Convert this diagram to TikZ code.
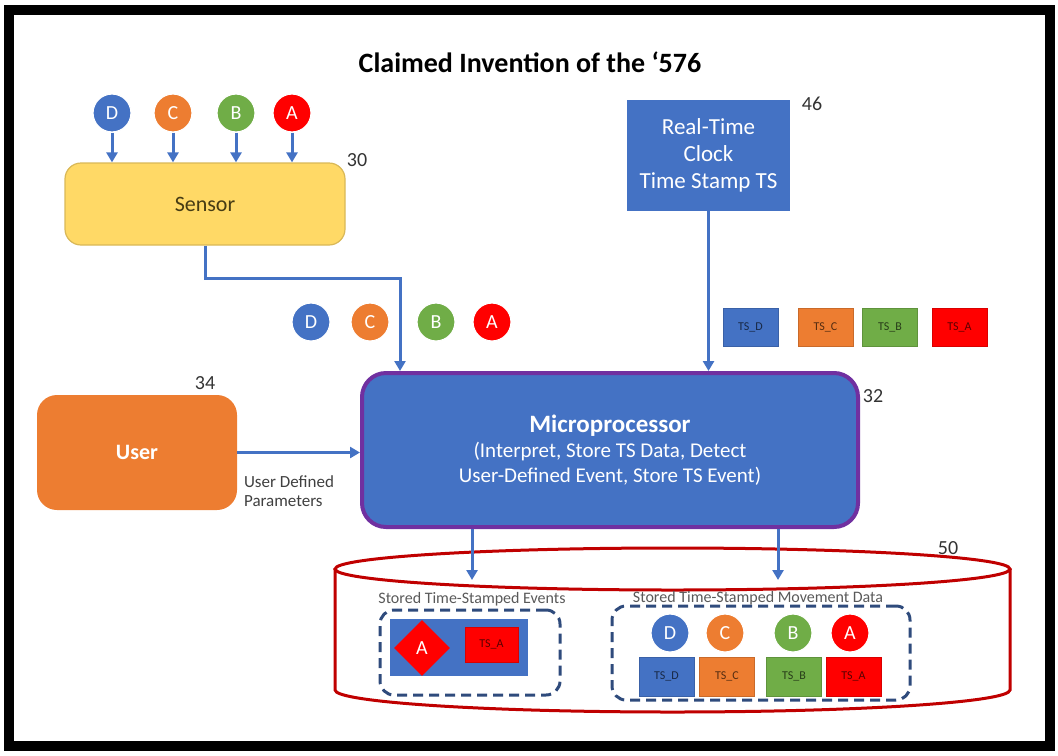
\documentclass[tikz,border=0pt]{standalone}
\usepackage{fontspec}
\setmainfont{Carlito}
\usetikzlibrary{arrows.meta,shapes.geometric}

\definecolor{tsblue}{HTML}{4472C4}
\definecolor{tsorange}{HTML}{ED7D31}
\definecolor{tsgreen}{HTML}{70AD47}
\definecolor{tsred}{HTML}{FF0000}
\definecolor{tsyellow}{HTML}{FFD966}
\definecolor{tspurple}{HTML}{7030A0}
\definecolor{tsnavy}{HTML}{2F4B7C}
\definecolor{tsdrum}{HTML}{C00000}

\tikzset{
  ball/.style={circle, fill=#1, draw=white, line width=0.6pt, minimum size=19pt,
    inner sep=0pt, text=white, font=\fontsize{10}{12}\selectfont},
  stamp/.style={rectangle, fill=#1, draw=#1!85!black, line width=0.5pt,
    minimum width=27.5pt, minimum height=19pt, inner sep=0pt,
    text=#1!35!black, font=\fontsize{6}{7}\selectfont},
  flow/.style={draw=tsblue, line width=1.5pt, -{Triangle[length=5pt,width=5.5pt]}},
  refnum/.style={font=\fontsize{10}{12}\selectfont, text=black!80},
  group/.style={draw=tsnavy, line width=1.5pt, dash pattern=on 5pt off 3pt,
    rounded corners=7pt},
  caption/.style={font=\fontsize{8}{9}\selectfont, text=black!65},
}

\begin{document}
\begin{tikzpicture}[x=0.5pt, y=-0.5pt]
  \useasboundingbox (0,0) rectangle (1058,755);
  \draw[line width=5pt] (9,9.5) rectangle (1050,746);

  \node (title) at (530,62) {\fontsize{14}{16}\selectfont\bfseries Claimed Invention of the ‘576};

  % sensor and its inputs
  \node (sensor) at (205,204) [rectangle, rounded corners=8pt, fill=tsyellow,
    draw=tsyellow!85!black, line width=0.6pt, minimum width=140pt, minimum height=41pt,
    font=\fontsize{11}{13}\selectfont, text={rgb,255:red,70;green,60;blue,20}] {Sensor};
  \node (sD) at (112,113) [ball=tsblue] {D};
  \node (sC) at (173,113) [ball=tsorange] {C};
  \node (sB) at (236,113) [ball=tsgreen] {B};
  \node (sA) at (292,113) [ball=tsred] {A};
  \node[refnum] (n30) at (357,160) {30};

  % clock
  \node (clock) at (708.5,155.5) [rectangle, fill=tsblue, minimum width=81.5pt,
    minimum height=55.5pt, align=center, text=white,
    font=\fontsize{11.5}{13.5}\selectfont] {Real-Time\\Clock\\Time Stamp TS};
  \node[refnum] (n46) at (812,104) {46};

  % samples on the way in
  \node (mD) at (311,322) [ball=tsblue] {D};
  \node (mC) at (370,322) [ball=tsorange] {C};
  \node (mB) at (436,322) [ball=tsgreen] {B};
  \node (mA) at (492,322) [ball=tsred] {A};
  \node (tD) at (750.5,327) [stamp=tsblue] {TS\_D};
  \node (tC) at (825.5,327) [stamp=tsorange] {TS\_C};
  \node (tB) at (890,327) [stamp=tsgreen] {TS\_B};
  \node (tA) at (959.5,327) [stamp=tsred] {TS\_A};

  % user and microprocessor
  \node (user) at (137,452.5) [rectangle, rounded corners=10pt, fill=tsorange,
    minimum width=100pt, minimum height=57.5pt, text=white,
    font=\fontsize{11}{13}\selectfont\bfseries] {User};
  \node[refnum] (n34) at (205,383) {34};
  \node (params) at (289,491) [align=left, text=black!75,
    font=\fontsize{8.5}{9.5}\selectfont] {User Defined\\Parameters};

  \node (cpu) at (610,450) [rectangle, rounded corners=12pt, fill=tsblue,
    draw=tspurple, line width=2pt, minimum width=248pt, minimum height=77pt,
    align=center, text=white, font=\fontsize{10.5}{12.5}\selectfont]
    {{\fontsize{12.5}{15}\selectfont\bfseries Microprocessor}\\
     (Interpret, Store TS Data, Detect\\User-Defined Event, Store TS Event)};
  \node[refnum] (n32) at (873,396) {32};

  % storage drum
  \draw[tsdrum, line width=1.5pt] (672.5,569) ellipse [x radius=168.75pt, y radius=10.5pt];
  \draw[tsdrum, line width=1.5pt] (335,569) -- (335,690)
    arc[start angle=180, end angle=360, x radius=168.75pt, y radius=11pt] -- (1010,569);
  \node[refnum] (n50) at (948,548) {50};

  \node (evBox) at (470,652.5) [group, minimum width=90pt, minimum height=42.5pt] {};
  \node[caption] (evCap) at (472,599) {Stored Time-Stamped Events};
  \node (evBar) at (459,647.5) [rectangle, fill=tsblue, minimum width=69pt,
    minimum height=28.5pt] {};
  \node (evA) at (422,648) [diamond, fill=tsred, minimum width=28pt, minimum height=28pt,
    inner sep=0pt, text=white, font=\fontsize{10}{12}\selectfont] {A};
  \node (evT) at (491.5,644.5) [stamp=tsred, minimum width=26.5pt, minimum height=17.5pt] {TS\_A};

  \node (mvBox) at (761,653) [group, minimum width=149pt, minimum height=47pt] {};
  \node[caption] (mvCap) at (758,598) {Stored Time-Stamped Movement Data};
  \node (kD) at (670,633) [ball=tsblue] {D};
  \node (kC) at (725,633) [ball=tsorange] {C};
  \node (kB) at (793,633) [ball=tsgreen] {B};
  \node (kA) at (850,633) [ball=tsred] {A};
  \node (qD) at (666.5,676.5) [stamp=tsblue, minimum height=19.5pt] {TS\_D};
  \node (qC) at (727,676.5) [stamp=tsorange, minimum height=19.5pt] {TS\_C};
  \node (qB) at (794,676.5) [stamp=tsgreen, minimum height=19.5pt] {TS\_B};
  \node (qA) at (853.5,676.5) [stamp=tsred, minimum height=19.5pt] {TS\_A};

  % connectors
  \coordinate (bend) at (400,278);
  \coordinate (evIn) at (472,580);
  \coordinate (mvIn) at (778,580);
  \draw[flow] (sD) -- (sD |- sensor.north);
  \draw[flow] (sC) -- (sC |- sensor.north);
  \draw[flow] (sB) -- (sB |- sensor.north);
  \draw[flow] (sA) -- (sA |- sensor.north);
  \draw[flow] (sensor.south) |- (bend) -- (bend |- cpu.north);
  \draw[flow] (clock) -- (clock |- cpu.north);
  \draw[flow] (user.east) -- (user.east -| cpu.west);
  \draw[flow] (cpu.south -| evIn) -- (evIn);
  \draw[flow] (cpu.south -| mvIn) -- (mvIn);
\end{tikzpicture}
\end{document}
